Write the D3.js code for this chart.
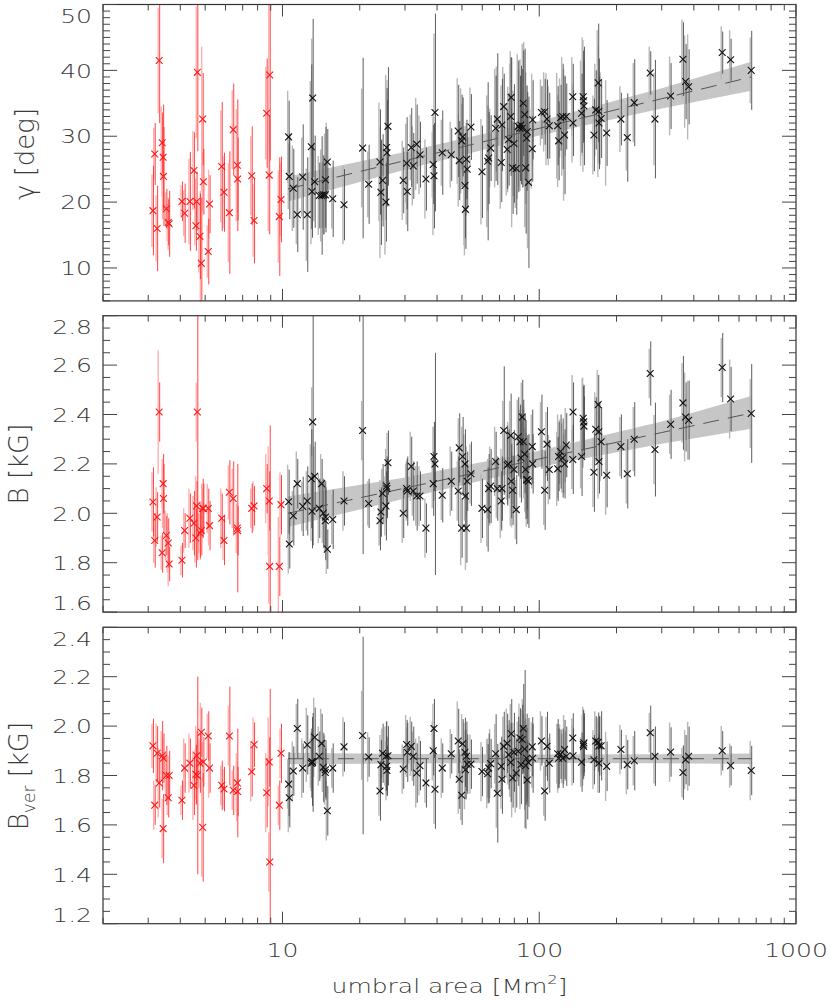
<!DOCTYPE html>
<html>
<head>
<meta charset="utf-8">
<script src="https://cdn.jsdelivr.net/npm/d3@7"></script>
<style>
  body { margin: 0; background: #fff; }
  text { font-family: "DejaVu Sans", sans-serif; font-weight: 200; fill: #3a3a3a; }
</style>
</head>
<body>
<div class="chart"></div>
<script>
// small spots (red)
var smallArea = [3.13,3.18,3.25,3.31,3.40,3.43,3.44,3.53,3.59,3.62,4.06,4.16,4.36,4.52,4.60,4.63,4.66,4.77,4.83,4.89,4.92,5.14,5.20,5.80,5.92,6.21,6.43,6.67,6.69,7.59,7.75,8.68,8.88,8.92,9.72,9.87];
var gammaRed = [18.7,27.3,16.0,41.5,29.0,26.8,23.9,19.0,16.9,16.7,20.1,18.3,20.1,24.8,16.4,20.1,39.7,14.8,10.7,32.6,23.1,12.5,19.7,25.4,21.5,18.4,31.0,25.6,23.5,24.0,17.2,33.5,24.1,39.3,17.8,20.4];
var gammaRedErr = [6.8,4.7,6.5,9.5,4.6,8.0,7.5,3.0,3.5,5.0,3.0,4.5,7.5,5.8,3.8,4.5,12.0,6.5,10.0,7.0,5.0,5.0,4.4,9.8,6.0,9.3,7.0,10.0,6.3,7.5,6.5,8.3,9.0,13.0,9.0,6.5];
var gammaRedErr2 = [5.5,4.0,5.0,8.0,5.5,6.0,6.5,2.5,2.8,4.0,2.5,3.5,6.5,6.0,3.0,3.5,10.0,5.5,11.0,11.0,4.5,4.0,5.2,8.5,5.5,7.5,6.0,8.5,5.0,6.0,5.5,7.0,8.5,11.5,7.0,5.5];
var bRed = [2.046,1.89,1.985,2.41,1.84,2.12,2.06,1.91,1.88,1.795,1.81,1.93,1.98,1.96,1.90,2.03,2.41,1.92,1.93,2.02,2.02,2.02,1.95,1.98,1.89,2.085,2.06,1.94,1.93,2.02,2.03,2.10,2.05,1.785,1.785,2.035];
var bRedErr = [0.14,0.11,0.10,0.12,0.08,0.12,0.14,0.08,0.10,0.07,0.07,0.07,0.10,0.13,0.12,0.10,0.60,0.10,0.10,0.12,0.10,0.08,0.10,0.10,0.10,0.13,0.15,0.26,0.10,0.10,0.08,0.10,0.12,0.57,0.12,0.12];
var bRedErr2 = [0.12,0.09,0.12,0.25,0.07,0.10,0.12,0.10,0.12,0.09,0.06,0.09,0.12,0.11,0.10,0.12,0.12,0.08,0.12,0.10,0.08,0.10,0.08,0.12,0.08,0.11,0.12,0.10,0.09,0.08,0.10,0.14,0.22,0.15,0.20,0.13];
var bverRed = [1.92,1.68,1.89,1.77,1.88,1.585,1.87,1.80,1.71,1.80,1.70,1.83,1.85,1.76,1.805,1.88,1.80,1.85,1.975,1.59,1.855,1.96,1.83,1.76,1.745,1.96,1.74,1.77,1.735,1.815,1.925,1.73,1.855,1.45,1.68,1.89];
var bverRedErr = [0.11,0.08,0.11,0.10,0.14,0.14,0.10,0.12,0.08,0.10,0.08,0.10,0.10,0.12,0.12,0.10,0.40,0.12,0.10,0.22,0.10,0.10,0.10,0.10,0.09,0.20,0.10,0.22,0.10,0.10,0.09,0.14,0.10,0.70,0.10,0.12];
var bverRedErr2 = [0.09,0.10,0.12,0.14,0.10,0.12,0.08,0.10,0.07,0.08,0.06,0.12,0.12,0.14,0.10,0.12,0.12,0.10,0.12,0.20,0.08,0.09,0.12,0.08,0.08,0.12,0.08,0.12,0.12,0.12,0.11,0.16,0.18,0.12,0.08,0.10];

// larger spots (black)
var area = [10.57,10.63,11.02,11.42,11.99,12.49,12.95,13.03,13.11,13.35,
  13.91,14.21,14.42,14.68,14.71,14.95,15.69,17.36,20.52,21.66,
  23.97,24.18,24.55,25.29,25.45,25.52,25.75,29.53,30.45,30.62,
  31.73,32.31,33.32,34.32,36.20,38.65,38.90,39.25,41.91,45.42,
  48.36,48.80,49.86,50.31,51.36,51.59,52.05,52.42,54.20,59.84,
  62.97,63.54,64.68,67.64,68.64,71.13,71.57,72.74,75.00,76.01,
  77.38,77.80,78.78,79.71,81.36,82.84,84.11,84.87,85.87,86.65,
  87.74,88.53,89.33,89.81,90.78,93.92,94.26,102.0,105.0,107.2,
  109.4,118.0,119.0,121.1,123.4,125.5,127.4,135.1,135.4,146.2,
  148.3,148.9,149.3,163.3,166.0,169.7,170.7,170.9,174.2,183.0,
  208.0,220.2,234.4,270.6,282.2,324.8,362.8,371.6,381.8,516.0,
  556.4,669.2];
var gamma = [29.9,23.9,22.1,18.1,23.8,18.1,28.4,21.6,35.8,23.1,
  21.0,21.0,21.1,21.1,23.4,26.1,20.5,19.6,28.2,22.7,
  26.1,21.5,23.3,20.0,28.3,27.5,31.5,23.3,25.9,21.6,
  28.3,25.5,28.8,27.2,23.5,25.7,24.0,33.6,27.5,27.2,
  30.8,26.3,29.3,29.9,22.5,18.9,26.5,25.0,31.4,24.6,
  26.2,26.7,28.2,31.2,32.6,26.0,31.7,34.5,28.0,29.5,
  33.0,35.9,25.2,28.9,25.1,31.5,31.2,31.7,31.2,35.0,
  33.3,25.2,29.7,30.7,23.0,28.1,32.5,33.6,33.7,32.6,
  31.6,31.6,29.3,32.8,33.0,30.2,33.0,36.0,32.0,33.5,
  36.0,35.4,34.6,30.2,34.0,38.1,33.8,32.0,32.7,30.5,
  32.6,29.8,35.1,39.6,32.6,36.1,41.7,38.3,37.5,42.7,
  41.6,40.0];
var gammaErr = [5.5,6.5,6,5.7,8,8.7,12.5,7,12,7,
  5,9,6,5,8,5,5.8,5.4,13.7,6,
  8,8,7,6,9,8,9,5,7,6,
  6,5,6,5,4.8,6,8,15,6.4,4,
  7,6,7,6,8,6,6,6,5,7,
  12,7,5,8,10,6,7,5,6,7,
  9,6,7,9,7,10,8,9,9,8,
  10,10,8,6,13,5,6,4,5,6,
  5,6,6,5,8,9,5,5,5,6,
  7,6,9,5.5,6,9,8,7,6,5,
  4,6.7,6.6,3.3,9,5,5.6,5.7,5.7,3.2,
  3.2,6];
var gammaErr2 = [7,5,6.5,4.5,6,7,10,8,9,6,
  6,7,5,6,7,6,4.5,6,9,5,
  9,10,6,8,11,9,7,6,6,5,
  5,6,7,6,6,5,9,12,5,5,
  8,7,8,5,9,7,5,7,6,8,
  10,8,6,9,8,7,6,6,7,8,
  8,7,9,8,6,11,9,10,8,9,
  11,9,10,7,10,6,7,5,6,7,
  6,8,7,6,9,10,6,6,6,8,
  9,7,10,6,7,8,10,6,7,8,
  5,5,6,4,7,6,6,7,8,4,
  4.5,5];
var b = [2.047,1.876,1.99,2.12,2.028,2.05,2.14,2.008,2.37,2.15,
  2.02,2.12,2.0,1.97,1.985,1.855,1.975,2.05,2.335,2.04,
  1.97,2.005,2.08,2.03,2.11,2.10,2.205,2.0,2.10,2.09,
  2.19,2.09,2.07,2.07,1.94,2.12,2.23,2.20,2.073,2.13,
  2.09,2.265,1.94,2.23,2.20,2.07,1.94,2.13,2.16,2.02,
  2.015,2.10,2.11,2.21,2.10,2.05,2.10,2.335,2.195,2.20,
  2.315,2.13,2.093,2.177,2.015,2.31,2.29,2.224,2.39,2.29,
  2.24,2.177,2.136,2.136,2.13,2.27,2.20,2.33,2.093,2.28,
  2.177,2.18,2.23,2.25,2.224,2.20,2.276,2.218,2.41,2.23,
  2.385,2.37,2.353,2.166,2.34,2.44,2.33,2.21,2.29,2.154,
  2.27,2.16,2.30,2.566,2.258,2.36,2.447,2.39,2.377,2.59,
  2.463,2.404];
var bErr = [0.13,0.10,0.12,0.10,0.12,0.14,0.20,0.15,0.50,0.14,
  0.12,0.10,0.14,0.16,0.12,0.08,0.12,0.10,0.50,0.10,
  0.12,0.10,0.12,0.14,0.12,0.12,0.13,0.10,0.12,0.14,
  0.12,0.12,0.14,0.10,0.10,0.13,0.14,0.45,0.11,0.12,
  0.14,0.14,0.12,0.16,0.14,0.14,0.14,0.12,0.13,0.12,
  0.17,0.14,0.15,0.12,0.13,0.12,0.13,0.26,0.16,0.14,
  0.17,0.15,0.14,0.16,0.14,0.16,0.15,0.18,0.15,0.17,
  0.16,0.20,0.12,0.18,0.19,0.15,0.12,0.15,0.16,0.15,
  0.12,0.13,0.14,0.15,0.16,0.14,0.13,0.14,0.12,0.16,
  0.13,0.15,0.12,0.16,0.13,0.12,0.12,0.13,0.14,0.13,
  0.13,0.14,0.15,0.13,0.19,0.14,0.19,0.14,0.16,0.14,
  0.13,0.20];
var bErr2 = [0.15,0.12,0.10,0.13,0.10,0.12,0.14,0.12,0.14,0.12,
  0.14,0.12,0.12,0.10,0.14,0.10,0.10,0.12,0.12,0.09,
  0.10,0.13,0.10,0.12,0.15,0.10,0.12,0.12,0.10,0.12,
  0.14,0.10,0.12,0.12,0.12,0.10,0.12,0.15,0.10,0.14,
  0.12,0.12,0.15,0.12,0.12,0.10,0.17,0.14,0.12,0.14,
  0.15,0.12,0.16,0.14,0.12,0.15,0.16,0.12,0.14,0.17,
  0.14,0.18,0.15,0.14,0.12,0.15,0.13,0.16,0.14,0.15,
  0.18,0.17,0.14,0.19,0.15,0.13,0.10,0.12,0.14,0.13,
  0.14,0.15,0.17,0.13,0.14,0.12,0.15,0.12,0.15,0.13,
  0.16,0.18,0.17,0.14,0.15,0.14,0.13,0.15,0.16,0.16,
  0.12,0.12,0.13,0.10,0.14,0.12,0.16,0.18,0.16,0.12,
  0.16,0.14];
var bver = [1.765,1.71,1.818,1.99,1.83,1.924,1.85,1.857,1.853,1.955,
  1.878,1.93,1.833,1.812,1.823,1.657,1.83,1.916,1.962,1.875,
  1.737,1.844,1.89,1.878,1.837,1.82,1.88,1.826,1.925,1.894,
  1.918,1.878,1.81,1.84,1.77,1.90,1.99,1.744,1.83,1.888,
  1.94,1.785,1.72,1.928,1.894,1.823,1.878,1.846,1.846,1.816,
  1.807,1.83,1.848,1.888,1.728,1.837,1.785,1.918,1.93,1.884,
  1.853,1.969,1.79,1.894,1.81,1.898,1.952,1.844,1.946,1.99,
  1.907,1.84,1.87,1.782,1.853,1.916,1.87,1.94,1.737,1.918,
  1.85,1.888,1.87,1.886,1.87,1.905,1.878,1.952,1.88,1.854,
  1.925,1.918,1.932,1.864,1.94,1.935,1.85,1.92,1.92,1.837,
  1.905,1.844,1.86,1.973,1.878,1.895,1.812,1.864,1.878,1.90,
  1.84,1.82];
var bverErr = [0.13,0.12,0.10,0.12,0.10,0.12,0.14,0.18,0.20,0.12,
  0.10,0.12,0.14,0.10,0.12,0.10,0.10,0.10,0.40,0.08,
  0.12,0.10,0.12,0.14,0.12,0.10,0.12,0.08,0.10,0.12,
  0.10,0.12,0.12,0.10,0.10,0.10,0.12,0.16,0.10,0.08,
  0.13,0.12,0.12,0.10,0.14,0.12,0.14,0.12,0.10,0.10,
  0.12,0.14,0.10,0.16,0.20,0.12,0.14,0.14,0.12,0.14,
  0.16,0.14,0.12,0.16,0.14,0.14,0.12,0.16,0.14,0.18,
  0.32,0.16,0.18,0.16,0.18,0.12,0.14,0.10,0.12,0.14,
  0.12,0.14,0.12,0.10,0.12,0.12,0.12,0.10,0.11,0.12,
  0.14,0.12,0.12,0.10,0.10,0.12,0.12,0.12,0.14,0.10,
  0.08,0.10,0.12,0.11,0.12,0.10,0.11,0.10,0.12,0.08,
  0.08,0.10];
var bverErr2 = [0.10,0.14,0.12,0.10,0.12,0.15,0.10,0.12,0.10,0.16,
  0.12,0.14,0.10,0.12,0.14,0.12,0.08,0.12,0.18,0.10,
  0.10,0.12,0.10,0.12,0.10,0.12,0.14,0.10,0.12,0.10,
  0.12,0.10,0.14,0.12,0.08,0.12,0.10,0.14,0.12,0.10,
  0.16,0.14,0.10,0.12,0.12,0.16,0.10,0.14,0.12,0.12,
  0.14,0.12,0.14,0.12,0.14,0.10,0.12,0.12,0.14,0.12,
  0.14,0.12,0.16,0.12,0.16,0.12,0.14,0.18,0.12,0.12,
  0.14,0.18,0.16,0.20,0.14,0.10,0.12,0.12,0.10,0.12,
  0.10,0.12,0.14,0.12,0.10,0.14,0.10,0.08,0.12,0.10,
  0.12,0.16,0.14,0.12,0.12,0.10,0.12,0.10,0.12,0.14,
  0.10,0.12,0.10,0.08,0.11,0.12,0.10,0.12,0.14,0.10,
  0.09,0.12];

// fits with confidence band
var fitArea = [10.5, 30, 100, 300, 670];
var gammaFit = [22.0, 26.3, 31.2, 35.7, 39.0];
var gammaLow = [20.1, 24.9, 30.1, 34.2, 36.9];
var gammaHigh = [23.9, 27.6, 32.3, 37.3, 41.3];
var bFit = [2.0, 2.102, 2.22, 2.327, 2.406];
var bLow = [1.945, 2.06, 2.187, 2.282, 2.342];
var bHigh = [2.068, 2.145, 2.253, 2.372, 2.475];
var bverFit = [1.868, 1.868, 1.868, 1.868, 1.868];
var bverLow = [1.846, 1.849, 1.851, 1.850, 1.847];
var bverHigh = [1.892, 1.887, 1.885, 1.886, 1.889];

var xTicks = [10, 100, 1000];
var gammaTicks = [10, 20, 30, 40, 50];
var bTicks = [1.6, 1.8, 2.0, 2.2, 2.4, 2.6, 2.8];
var bverTicks = [1.2, 1.4, 1.6, 1.8, 2.0, 2.2, 2.4];

var svgWidth = 830;
var svgHeight = 1008;
var margin = {left: 103, right: 34};
var width = svgWidth - margin.left - margin.right;
var panelHeight = 296.4;

var svg = d3.select(".chart")
  .append("svg")
  .attr("width", svgWidth)
  .attr("height", svgHeight);

var xScale = d3.scaleLog().domain([2, 1000]).range([0, width]);

var panels = [
  {top: 4.5, domain: [5, 50], ticks: gammaTicks, minor: 1, fmt: d3.format("d"),
   red: gammaRed, redErr: gammaRedErr, redErr2: gammaRedErr2,
   blk: gamma, blkErr: gammaErr, blkErr2: gammaErr2,
   fit: gammaFit, low: gammaLow, high: gammaHigh, titleX: 34, titleY: 154},
  {top: 315.7, domain: [1.6, 2.8], ticks: bTicks, minor: 0.05, fmt: d3.format(".1f"),
   red: bRed, redErr: bRedErr, redErr2: bRedErr2,
   blk: b, blkErr: bErr, blkErr2: bErr2,
   fit: bFit, low: bLow, high: bHigh, titleX: 28, titleY: 464},
  {top: 627.3, domain: [1.2, 2.4], ticks: bverTicks, minor: 0.05, fmt: d3.format(".1f"),
   red: bverRed, redErr: bverRedErr, redErr2: bverRedErr2,
   blk: bver, blkErr: bverErr, blkErr2: bverErr2,
   fit: bverFit, low: bverLow, high: bverHigh, titleX: 28, titleY: 776}
];

var cross = "M-3.4,-3.4L3.4,3.4M-3.4,3.4L3.4,-3.4";

panels.forEach(function(p, pi) {
  var yScale = d3.scaleLinear().domain(p.domain).range([panelHeight, 0]);

  var g = svg.append("g")
    .attr("transform", `translate(${margin.left}, ${p.top})`);

  g.append("clipPath")
    .attr("id", "clip" + pi)
    .append("rect")
    .attr("width", width)
    .attr("height", panelHeight);

  var plot = g.append("g").attr("clip-path", `url(#clip${pi})`);

  // confidence band
  var band = fitArea.map(function(a, i) { return {a: a, lo: p.low[i], hi: p.high[i], f: p.fit[i]}; });
  plot.append("path")
    .datum(band)
    .attr("fill", "#c6c6c6")
    .attr("d", d3.area()
      .x(d => xScale(d.a))
      .y0(d => yScale(d.lo))
      .y1(d => yScale(d.hi)));

  var redPts = smallArea.map(function(a, i) { return {a: a, v: p.red[i], e: p.redErr[i], e2: p.redErr2[i]}; });
  var blkPts = area.map(function(a, i) { return {a: a, v: p.blk[i], e: p.blkErr[i], e2: p.blkErr2[i]}; });

  function bars(pts, cls, color, w, key, dx) {
    plot.selectAll("line." + cls)
      .data(pts)
      .enter()
      .append("line")
      .attr("class", cls)
      .attr("x1", d => xScale(d.a) + dx)
      .attr("x2", d => xScale(d.a) + dx)
      .attr("y1", d => yScale(d.v - d[key]))
      .attr("y2", d => yScale(d.v + d[key]))
      .attr("stroke", color)
      .attr("stroke-width", w);
  }
  bars(redPts, "rl", "#ffb0b0", 1.4, "e2", -1);
  bars(blkPts, "bl", "#b8b8b8", 1.4, "e2", -1);
  bars(redPts, "rd", "#ff3030", 0.9, "e", 0.5);
  bars(blkPts, "bd", "#4a4a4a", 0.9, "e", 0.5);

  // fit line
  plot.append("path")
    .datum(band)
    .attr("fill", "none")
    .attr("stroke", "#555")
    .attr("stroke-width", 1)
    .attr("stroke-dasharray", "16,9")
    .attr("d", d3.line().x(d => xScale(d.a)).y(d => yScale(d.f)));

  plot.selectAll("path.rx")
    .data(redPts)
    .enter()
    .append("path")
    .attr("class", "rx")
    .attr("transform", d => `translate(${xScale(d.a)}, ${yScale(d.v)})`)
    .attr("d", cross)
    .attr("stroke", "#ff1a1a")
    .attr("stroke-width", 1.1);

  plot.selectAll("path.bx")
    .data(blkPts)
    .enter()
    .append("path")
    .attr("class", "bx")
    .attr("transform", d => `translate(${xScale(d.a)}, ${yScale(d.v)})`)
    .attr("d", cross)
    .attr("stroke", "#111")
    .attr("stroke-width", 1.1);

  // frame and ticks
  g.append("rect")
    .attr("width", width)
    .attr("height", panelHeight)
    .attr("fill", "none")
    .attr("stroke", "#333")
    .attr("stroke-width", 1.2);

  var ax = g.append("g").attr("stroke", "#444").attr("stroke-width", 1);

  var lo = p.domain[0], hi = p.domain[1];
  var minorTicks = d3.range(Math.round(lo / p.minor), Math.round(hi / p.minor) + 1).map(i => i * p.minor);
  minorTicks.forEach(function(t) {
    var isMajor = p.ticks.some(m => Math.abs(m - t) < 1e-6);
    var len = isMajor ? 14 : 7;
    var yy = yScale(t);
    ax.append("line").attr("x1", 0).attr("x2", len).attr("y1", yy).attr("y2", yy);
    ax.append("line").attr("x1", width).attr("x2", width - len).attr("y1", yy).attr("y2", yy);
  });

  xScale.ticks().forEach(function(t) {
    var isMajor = xTicks.indexOf(t) >= 0;
    var len = isMajor ? 12 : 6;
    var xx = xScale(t);
    ax.append("line").attr("x1", xx).attr("x2", xx).attr("y1", panelHeight).attr("y2", panelHeight - len);
    ax.append("line").attr("x1", xx).attr("x2", xx).attr("y1", 0).attr("y2", len);
  });

  // y tick labels (end labels nudged inside like the original)
  p.ticks.forEach(function(t) {
    var yy = yScale(t);
    if (Math.abs(t - hi) < 1e-6) yy += 11;
    if (Math.abs(t - lo) < 1e-6) yy -= 9;
    g.append("text")
      .attr("transform", `translate(-11, ${yy}) scale(1.25, 1)`)
      .attr("dy", "0.36em")
      .style("text-anchor", "end")
      .style("font-size", "20px")
      .text(p.fmt(t));
  });
});

// axis titles
var titleFont = "26px";
svg.append("text")
  .attr("transform", `translate(${panels[0].titleX}, ${panels[0].titleY}) rotate(-90)`)
  .style("text-anchor", "middle")
  .style("font-size", titleFont)
  .text("γ [deg]");

svg.append("text")
  .attr("transform", `translate(${panels[1].titleX}, ${panels[1].titleY}) rotate(-90)`)
  .style("text-anchor", "middle")
  .style("font-size", titleFont)
  .text("B [kG]");

var bvTitle = svg.append("text")
  .attr("transform", `translate(${panels[2].titleX}, ${panels[2].titleY}) rotate(-90)`)
  .style("text-anchor", "middle")
  .style("font-size", titleFont);
bvTitle.append("tspan").text("B");
bvTitle.append("tspan").attr("dy", 7).style("font-size", "17px").text("ver");
bvTitle.append("tspan").attr("dy", -7).text(" [kG]");

// x tick labels on the bottom panel only
var bottomY = panels[2].top + panelHeight;
xTicks.forEach(function(t) {
  svg.append("text")
    .attr("transform", `translate(${margin.left + xScale(t)}, ${bottomY + 33}) scale(1.25, 1)`)
    .style("text-anchor", "middle")
    .style("font-size", "20px")
    .text(d3.format("d")(t));
});

var xTitle = svg.append("text")
  .attr("transform", `translate(${margin.left + width / 2}, ${bottomY + 69}) scale(1.25, 1)`)
  .style("text-anchor", "middle")
  .style("font-size", "20px");
xTitle.append("tspan").text("umbral area [Mm");
xTitle.append("tspan").attr("dy", -9).style("font-size", "13px").text("2");
xTitle.append("tspan").attr("dy", 9).text("]");
</script>
</body>
</html>
